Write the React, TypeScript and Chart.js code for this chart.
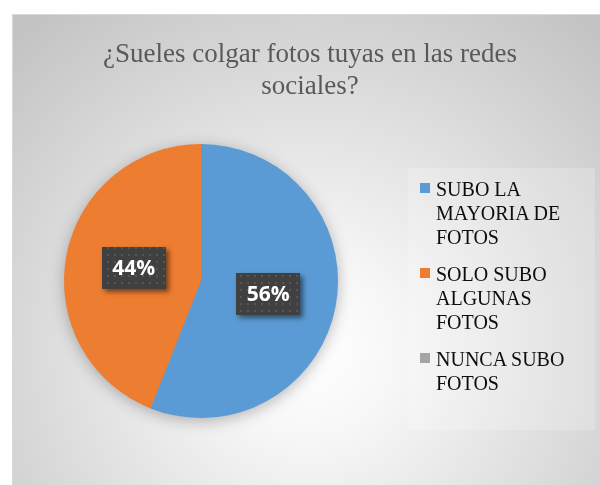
// Pie chart: "¿Sueles colgar fotos tuyas en las redes sociales?"
import React, { useEffect, useRef } from "react";
import { Chart, registerables } from "chart.js";

Chart.register(...registerables);

const TITLE = "¿Sueles colgar fotos tuyas en las redes sociales?";
const categories = ["SUBO LA MAYORIA DE FOTOS", "SOLO SUBO ALGUNAS FOTOS", "NUNCA SUBO FOTOS"];
const values = [56, 44, 0];
const colors = ["#5B9BD5", "#ED7D31", "#A5A5A5"];

const SERIF_CSS = '"Times New Roman", "Liberation Serif", Tinos, serif';
const LABEL_FONT = 'bold 21px "Open Sans"';

let patternCanvas: HTMLCanvasElement | null = null;
function getPattern(ctx: CanvasRenderingContext2D) {
  if (!patternCanvas) {
    patternCanvas = document.createElement("canvas");
    patternCanvas.width = 7;
    patternCanvas.height = 7;
    const p = patternCanvas.getContext("2d")!;
    p.fillStyle = "#404040";
    p.fillRect(0, 0, 7, 7);
    p.fillStyle = "#565656";
    p.fillRect(2, 2, 2, 2);
  }
  return ctx.createPattern(patternCanvas, "repeat");
}

const decorPlugin = {
  id: "chartDecor",
  beforeDraw(chart: any) {
    const ctx: CanvasRenderingContext2D = chart.ctx;
    const W = chart.width;
    const H = chart.height;
    ctx.save();
    ctx.fillStyle = "#ffffff";
    ctx.fillRect(0, 0, W, H);
    const bx = 12, by = 14, bw = 600, bh = 480;
    const g = ctx.createRadialGradient(310, 350, 0, 310, 350, 430);
    g.addColorStop(0, "#ffffff");
    g.addColorStop(0.2, "#f7f7f7");
    g.addColorStop(1, "#c3c3c3");
    ctx.fillStyle = g;
    ctx.fillRect(bx, by, bw, bh);
    ctx.strokeStyle = "#d9d9d9";
    ctx.lineWidth = 1;
    ctx.beginPath();
    ctx.moveTo(bx + 0.5, H);
    ctx.lineTo(bx + 0.5, by + 0.5);
    ctx.lineTo(W, by + 0.5);
    ctx.stroke();
    ctx.fillStyle = "rgba(255,255,255,0.2)";
    ctx.fillRect(408, 168, 187, 262);
    ctx.restore();
  },
  beforeDatasetsDraw(chart: any) {
    const ctx: CanvasRenderingContext2D = chart.ctx;
    const arc = chart.getDatasetMeta(0).data[0];
    if (!arc) return;
    ctx.save();
    ctx.shadowColor = "rgba(0,0,0,0.3)";
    ctx.shadowBlur = 16;
    ctx.shadowOffsetY = 3;
    ctx.fillStyle = "#5B9BD5";
    ctx.beginPath();
    ctx.arc(arc.x, arc.y, arc.outerRadius - 1, 0, Math.PI * 2);
    ctx.fill();
    ctx.restore();
  },
  afterDatasetsDraw(chart: any) {
    const ctx: CanvasRenderingContext2D = chart.ctx;
    const data: number[] = chart.data.datasets[0].data;
    const total = data.reduce((a, b) => a + b, 0);
    const meta = chart.getDatasetMeta(0);
    meta.data.forEach((el: any, i: number) => {
      const v = data[i];
      if (!v) return;
      const { x, y } = el.tooltipPosition();
      const text = Math.round((v / total) * 100) + "%";
      const w = 64, h = 42;
      const left = Math.round(x - w / 2);
      const top = Math.round(y - h / 2);
      ctx.save();
      ctx.shadowColor = "rgba(0,0,0,0.5)";
      ctx.shadowBlur = 5;
      ctx.shadowOffsetX = 3;
      ctx.shadowOffsetY = 3;
      ctx.fillStyle = "#404040";
      ctx.fillRect(left, top, w, h);
      ctx.restore();
      ctx.save();
      ctx.fillStyle = getPattern(ctx) as any;
      ctx.fillRect(left, top, w, h);
      ctx.fillStyle = "#ffffff";
      ctx.font = LABEL_FONT;
      ctx.textAlign = "center";
      ctx.textBaseline = "middle";
      ctx.fillText(text, x, y + 1);
      ctx.restore();
    });
  },
};

export default function App() {
  const ref = useRef<HTMLCanvasElement>(null);
  useEffect(() => {
    if (!ref.current) return;
    const chart = new Chart(ref.current, {
      type: "pie",
      data: {
        labels: categories,
        datasets: [
          {
            data: values,
            backgroundColor: colors,
            borderWidth: 0,
            hoverOffset: 0,
          },
        ],
      },
      options: {
        responsive: false,
        animation: false,
        events: [],
        devicePixelRatio: 1,
        layout: { padding: { left: 64, right: 262, top: 144, bottom: 67 } },
        plugins: {
          legend: { display: false },
          title: { display: false },
          tooltip: { enabled: false },
        },
      },
      plugins: [decorPlugin],
    });
    let alive = true;
    const fonts: any = (document as any).fonts;
    if (fonts && fonts.load) {
      fonts.load(LABEL_FONT, "56%").catch(() => null).then(() => {
        if (alive) chart.draw();
      });
    }
    return () => {
      alive = false;
      chart.destroy();
    };
  }, []);
  return (
    <div style={{ position: "fixed", left: 0, top: 0, width: 600, height: 485, overflow: "hidden" }}>
      <canvas ref={ref} width={600} height={485} style={{ display: "block", position: "absolute", left: 0, top: 0 }} />
      <div
        style={{
          position: "absolute",
          left: 80,
          top: 37,
          width: 460,
          textAlign: "center",
          fontFamily: SERIF_CSS,
          fontSize: 27,
          lineHeight: "32px",
          color: "#595959",
        }}
      >
        {TITLE}
      </div>
      <div style={{ position: "absolute", left: 420, top: 177, fontFamily: SERIF_CSS, fontSize: 20, lineHeight: "24px", color: "#0d0d0d" }}>
        {categories.map((c, i) => (
          <div key={c} style={{ position: "relative", paddingLeft: 16, width: 145, marginBottom: 13 }}>
            <span style={{ position: "absolute", left: 0, top: 6, width: 10, height: 10, background: colors[i] }} />
            {c}
          </div>
        ))}
      </div>
    </div>
  );
}
